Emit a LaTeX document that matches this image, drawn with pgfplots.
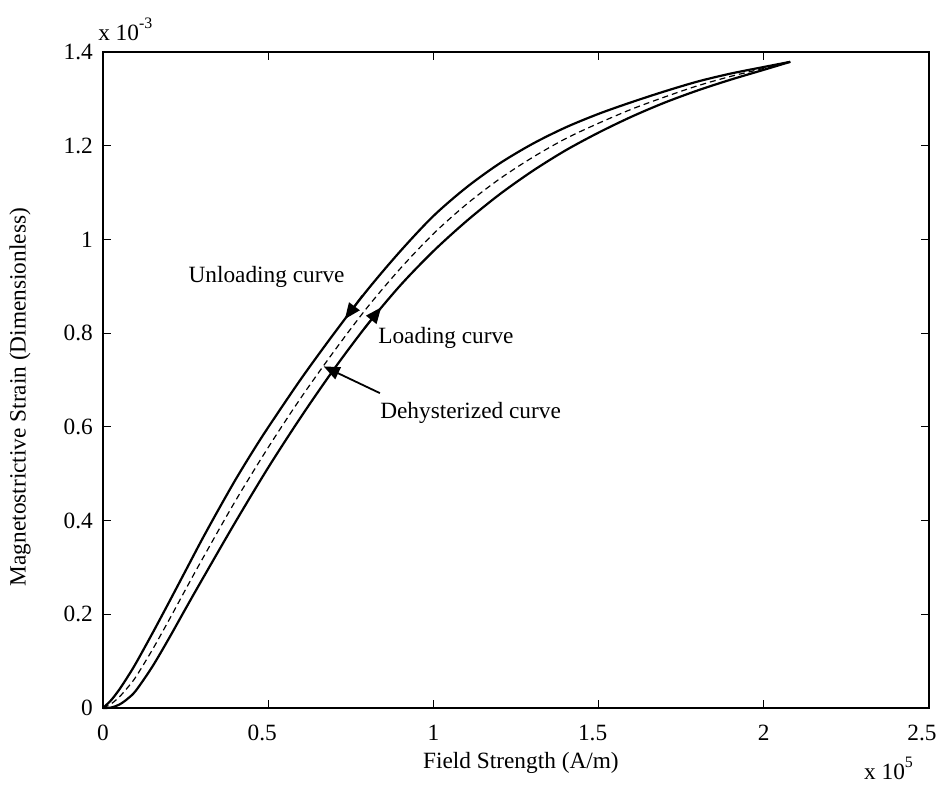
\documentclass[border=0pt]{standalone}
\usepackage{pgfplots}
\pgfplotsset{compat=1.18}
\usepackage{fontspec}
\setmainfont{Liberation Serif}
\usetikzlibrary{arrows.meta}
\begin{document}
\fontsize{11.7}{14}\selectfont
\begin{tikzpicture}
\begin{axis}[
  name=ax,
  scale only axis,
  width=413bp, height=328bp,
  xmin=0, xmax=2.5, ymin=0, ymax=1.4,
  xtick={0,0.5,1,1.5,2,2.5},
  xticklabels={0,{\hspace*{-6bp}0.5},1,{\hspace*{-6bp}1.5},2,{\hspace*{-7bp}2.5}},
  ytick={0,0.2,0.4,0.6,0.8,1,1.2,1.4},
  scaled ticks=false,
  tick align=inside,
  major tick length=4bp,
  axis line style={line width=0.75bp},
  tick style={line width=0.6bp, black},
  /pgf/number format/assume math mode=true,
  ticklabel style={font=\fontsize{11.7}{14}\selectfont},
  xticklabel style={yshift=-4.5bp},
  yticklabel style={xshift=-1bp},
  xlabel={Field Strength (A/m)},
  ylabel={Magnetostrictive Strain (Dimensionless)},
  label style={font=\fontsize{11.7}{14}\selectfont},
  xlabel style={at={(axis description cs:0.506,-0.084)},anchor=center},
  ylabel style={at={(axis description cs:-0.1005,0.474)},anchor=center},
  clip=false,
]
% Unloading curve (upper)
\addplot[black, line width=1.1bp, smooth, tension=0.5] coordinates {
(0,0) (0.025,0.017) (0.05,0.04) (0.075,0.067) (0.1,0.096) (0.15,0.16)
(0.2,0.226) (0.25,0.293) (0.3,0.36) (0.35,0.424) (0.4,0.486) (0.45,0.544)
(0.5,0.599) (0.6,0.703) (0.7,0.8) (0.8,0.892) (0.9,0.975) (1.0,1.05)
(1.1,1.111) (1.2,1.162) (1.3,1.204) (1.4,1.239) (1.5,1.268) (1.6,1.293)
(1.7,1.316) (1.8,1.337) (1.9,1.354) (2.0,1.368) (2.08,1.379)
};
% Loading curve (lower)
\addplot[black, line width=1.1bp, smooth, tension=0.5] coordinates {
(0,0) (0.025,0.001) (0.05,0.0075) (0.075,0.02) (0.1,0.0375) (0.15,0.089)
(0.2,0.149) (0.25,0.212) (0.3,0.274) (0.4,0.396) (0.5,0.513) (0.6,0.622)
(0.7,0.724) (0.8,0.818) (0.9,0.902) (1.0,0.975) (1.1,1.039) (1.2,1.096)
(1.3,1.146) (1.4,1.19) (1.5,1.228) (1.6,1.262) (1.7,1.292) (1.8,1.318)
(1.9,1.341) (2.0,1.362) (2.08,1.379)
};
% Dehysterized curve (dashed)
\addplot[black, line width=0.6bp, dash pattern=on 3bp off 2bp, smooth, tension=0.5] coordinates {
(0,0) (0.025,0.009) (0.05,0.024) (0.075,0.044) (0.1,0.067) (0.15,0.125)
(0.2,0.188) (0.25,0.253) (0.3,0.317) (0.4,0.441) (0.5,0.556) (0.6,0.663)
(0.7,0.762) (0.8,0.855) (0.9,0.938) (1.0,1.012) (1.1,1.075) (1.2,1.129)
(1.3,1.175) (1.4,1.215) (1.5,1.248) (1.6,1.278) (1.7,1.304) (1.8,1.328)
(1.9,1.348) (2.0,1.365) (2.08,1.379)
};
% arrows
\draw[-{Triangle[length=8bp,width=6.5bp]}, line width=0.9bp] (axis cs:0.785,0.880) -- (axis cs:0.732,0.830);
\draw[-{Triangle[length=8bp,width=6.5bp]}, line width=0.9bp] (axis cs:0.79,0.809) -- (axis cs:0.842,0.855);
\draw[-{Triangle[length=8bp,width=6.5bp]}, line width=0.9bp] (axis cs:0.838,0.672) -- (axis cs:0.668,0.729);
% labels
\node[anchor=center] at (axis cs:0.495,0.92) {Unloading curve};
\node[anchor=west, inner sep=0pt] at (axis cs:0.832,0.79) {Loading curve};
\node[anchor=west, inner sep=0pt] at (axis cs:0.838,0.63) {Dehysterized curve};
\node[anchor=base, inner sep=0pt] at (axis description cs:0.951,-0.1085) {x 10\raisebox{1.1ex}{\footnotesize 5}};
\node[anchor=center] at (axis description cs:0.027,1.034) {x 10\raisebox{1.1ex}{\footnotesize -3}};
\end{axis}
\pgfresetboundingbox
\path ([shift={(-51.5bp,-39bp)}]ax.south west) rectangle ([shift={(5bp,26bp)}]ax.north east);
\end{tikzpicture}
\end{document}
